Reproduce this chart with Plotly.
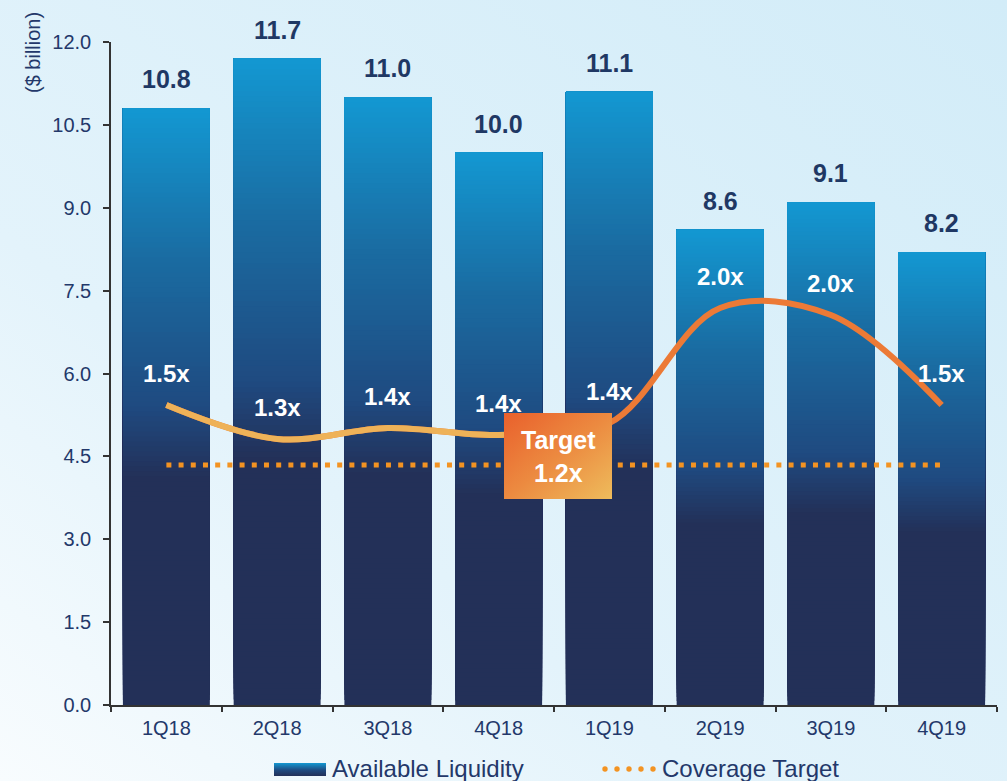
import base64
import plotly.graph_objects as go

# ---------------- data ----------------
quarters = ["1Q18", "2Q18", "3Q18", "4Q18", "1Q19", "2Q19", "3Q19", "4Q19"]
liquidity = [10.8, 11.7, 11.0, 10.0, 11.1, 8.6, 9.1, 8.2]          # $ billion
coverage = [1.50, 1.33, 1.385, 1.35, 1.41, 1.985, 1.95, 1.50]       # x (line)
coverage_labels = ["1.5x", "1.3x", "1.4x", "1.4x", "1.4x", "2.0x", "2.0x", "1.5x"]
target = [1.2] * len(quarters)
y_ticks = [0.0, 1.5, 3.0, 4.5, 6.0, 7.5, 9.0, 10.5, 12.0]

FONT = "Liberation Sans, Arial, sans-serif"
NAVY_TXT = "#23386A"

W, H = 1007, 781
L, R, T, B = 111, 10, 42, 76
PW, PH = W - L - R, H - T - B


def px_x(p):
    return (p - L) / PW


def px_y(p):
    return (H - B - p) / PH


def svg_uri(svg):
    return "data:image/svg+xml;base64," + base64.b64encode(svg.encode()).decode()


def hex2rgb(h):
    h = h.lstrip("#")
    return tuple(int(h[i:i + 2], 16) for i in (0, 2, 4))


bar_stops = [(0.0, "#233058"), (0.38, "#233058"), (0.5, "#1F4A80"),
             (0.75, "#1A6CA2"), (1.0, "#1398D2")]


def grad_color(t):
    for (t0, c0), (t1, c1) in zip(bar_stops[:-1], bar_stops[1:]):
        if t0 <= t <= t1:
            f = 0 if t1 == t0 else (t - t0) / (t1 - t0)
            a, b = hex2rgb(c0), hex2rgb(c1)
            return "rgb(%d,%d,%d)" % tuple(round(a[i] + (b[i] - a[i]) * f) for i in range(3))
    return bar_stops[-1][1]


fig = go.Figure()

# gradient bars: each bar drawn as overlapping layers of its own value
# (layer k spans from k/N of the bar to its top, later layers cover earlier ones)
N = 120
for k in range(N):
    col = grad_color((k + 0.5) / N)
    fig.add_trace(go.Bar(
        x=quarters, y=[v * (N - k) / N for v in liquidity], base=[v * k / N for v in liquidity],
        marker=dict(color=col, line=dict(width=0)),
        showlegend=False, hoverinfo="skip",
    ))

# coverage target dotted line
fig.add_trace(go.Scatter(
    x=quarters, y=target, yaxis="y2", mode="lines",
    line=dict(color="#F39322", width=5, dash="5px,7.2px"),
    name="Coverage Target", showlegend=False, hoverinfo="skip",
))

# coverage ratio line (full, orange) + left part in yellow-orange
fig.add_trace(go.Scatter(
    x=quarters, y=coverage, yaxis="y2", mode="lines",
    line=dict(color="#EC7A36", width=6, shape="spline", smoothing=1.0),
    showlegend=False, hoverinfo="skip",
))
fig.add_trace(go.Scatter(
    x=quarters[:5], y=coverage[:5], yaxis="y2", mode="lines",
    line=dict(color="#EEB258", width=6, shape="spline", smoothing=1.0),
    showlegend=False, hoverinfo="skip",
))

annotations = []
for q, v in zip(quarters, liquidity):
    annotations.append(dict(
        x=q, y=v, xref="x", yref="y", text="<b>%.1f</b>" % v, showarrow=False,
        yanchor="bottom", yshift=13, font=dict(family=FONT, size=25, color="#1F3864"),
    ))
for q, v, lab in zip(quarters, coverage, coverage_labels):
    annotations.append(dict(
        x=q, y=v, xref="x", yref="y2", text="<b>%s</b>" % lab, showarrow=False,
        yanchor="bottom", yshift=16, font=dict(family=FONT, size=24, color="white"),
    ))

# y-axis title
annotations.append(dict(
    x=px_x(33), y=px_y(53), xref="paper", yref="paper", text="($ billion)",
    textangle=-90, showarrow=False, xanchor="center", yanchor="middle",
    font=dict(family=FONT, size=20, color=NAVY_TXT),
))
# target box text
annotations.append(dict(
    x=px_x(558), y=px_y(456), xref="paper", yref="paper",
    text="<b>Target</b><br><b>1.2x</b>", showarrow=False,
    xanchor="center", yanchor="middle",
    font=dict(family=FONT, size=25, color="white"),
))
# legend texts
annotations.append(dict(
    x=px_x(330), y=px_y(768), xref="paper", yref="paper", text="Available Liquidity",
    showarrow=False, xanchor="left", yanchor="middle",
    font=dict(family=FONT, size=24, color=NAVY_TXT),
))
annotations.append(dict(
    x=px_x(660), y=px_y(768), xref="paper", yref="paper", text="Coverage Target",
    showarrow=False, xanchor="left", yanchor="middle",
    font=dict(family=FONT, size=24, color=NAVY_TXT),
))

bg_svg = ('<svg xmlns="http://www.w3.org/2000/svg" width="1007" height="781" '
          'viewBox="0 0 1007 781" preserveAspectRatio="none"><defs>'
          '<linearGradient id="g" x1="0" y1="1" x2="1" y2="0">'
          '<stop offset="0" stop-color="#F8FCFE"/><stop offset="0.35" stop-color="#E3F3FB"/>'
          '<stop offset="1" stop-color="#D2ECF8"/></linearGradient></defs>'
          '<rect width="1007" height="781" fill="url(#g)"/></svg>')
box_svg = ('<svg xmlns="http://www.w3.org/2000/svg" width="108" height="86" '
           'viewBox="0 0 108 86" preserveAspectRatio="none"><defs>'
           '<linearGradient id="t" x1="0" y1="0" x2="1" y2="1">'
           '<stop offset="0" stop-color="#E9602C"/><stop offset="0.5" stop-color="#EC8A40"/>'
           '<stop offset="1" stop-color="#EEBC5C"/></linearGradient></defs>'
           '<rect width="108" height="86" fill="url(#t)"/></svg>')
swatch_svg = ('<svg xmlns="http://www.w3.org/2000/svg" width="52" height="13" '
              'viewBox="0 0 52 13" preserveAspectRatio="none"><defs>'
              '<linearGradient id="s" x1="0" y1="0" x2="0" y2="1">'
              '<stop offset="0" stop-color="#1398D2"/><stop offset="0.55" stop-color="#1F4A80"/>'
              '<stop offset="1" stop-color="#233058"/></linearGradient></defs>'
              '<rect width="52" height="13" fill="url(#s)"/></svg>')
dots_svg = ('<svg xmlns="http://www.w3.org/2000/svg" width="54" height="8" '
            'viewBox="0 0 54 8" preserveAspectRatio="none">'
            + "".join('<circle cx="%g" cy="4" r="2.7" fill="#F39322"/>' % (3 + 12 * i) for i in range(5))
            + '</svg>')

images = [
    dict(source=svg_uri(bg_svg), xref="paper", yref="paper", x=-L / PW, y=1 + T / PH,
         sizex=W / PW, sizey=H / PH, xanchor="left", yanchor="top",
         sizing="stretch", layer="below"),
    dict(source=svg_uri(box_svg), xref="paper", yref="paper", x=px_x(504), y=px_y(413),
         sizex=108 / PW, sizey=86 / PH, xanchor="left", yanchor="top",
         sizing="stretch", layer="above"),
    dict(source=svg_uri(swatch_svg), xref="paper", yref="paper", x=px_x(274), y=px_y(763),
         sizex=52 / PW, sizey=13 / PH, xanchor="left", yanchor="top",
         sizing="stretch", layer="above"),
    dict(source=svg_uri(dots_svg), xref="paper", yref="paper", x=px_x(602), y=px_y(765),
         sizex=54 / PW, sizey=8 / PH, xanchor="left", yanchor="top",
         sizing="stretch", layer="above"),
]

fig.update_layout(
    width=W, height=H,
    margin=dict(l=L, r=R, t=T, b=B, pad=0),
    paper_bgcolor="#E3F3FB", plot_bgcolor="rgba(0,0,0,0)",
    barmode="overlay", bargap=0.215,
    showlegend=False,
    font=dict(family=FONT, color=NAVY_TXT),
    xaxis=dict(
        type="category", range=[-0.5, len(quarters) - 0.5], showgrid=False,
        showline=True, linecolor="#333333", linewidth=1.5,
        ticks="outside", ticklen=5, tickcolor="#333333", tickwidth=1.5,
        tickson="boundaries", ticklabelstandoff=4,
        tickfont=dict(family=FONT, size=20, color=NAVY_TXT),
    ),
    yaxis=dict(
        range=[0, 12], tickvals=y_ticks, ticktext=["%.1f" % v for v in y_ticks],
        showgrid=False, zeroline=False,
        showline=True, linecolor="#333333", linewidth=1.5,
        ticks="outside", ticklen=6, tickcolor="#333333", tickwidth=1.5,
        ticklabelstandoff=8,
        tickfont=dict(family=FONT, size=20, color=NAVY_TXT),
    ),
    yaxis2=dict(overlaying="y", range=[0, 3.315], visible=False),
    annotations=annotations,
    images=images,
)

fig.write_html("out.html", config={"displayModeBar": False},
               post_script="document.body.style.margin='0px';")
